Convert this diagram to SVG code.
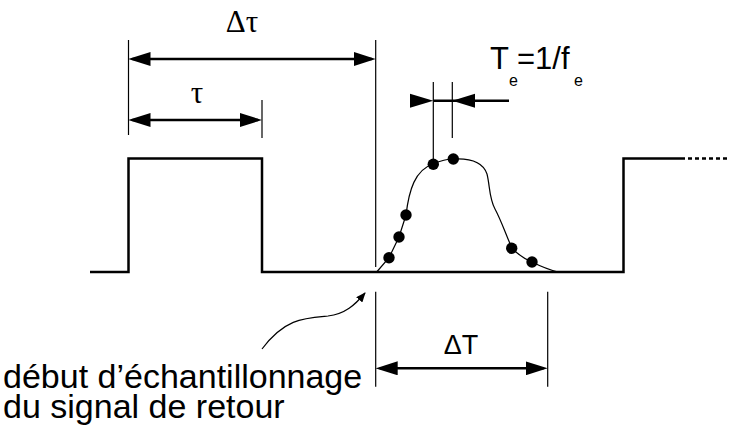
<svg xmlns="http://www.w3.org/2000/svg" width="729" height="426" viewBox="0 0 729 426">
<style>
.thick{fill:none;stroke:#000;stroke-width:2.5}
.thin{fill:none;stroke:#000;stroke-width:1.2}
.dim{fill:none;stroke:#000;stroke-width:2.5}
.sans{font-family:"Liberation Sans",Arial,sans-serif;fill:#000}
.serif{font-family:"Liberation Serif","Times New Roman",serif;fill:#000}
.dot{fill:#000}
</style>
<defs>
<marker id="ah" markerUnits="userSpaceOnUse" markerWidth="22" markerHeight="14" viewBox="0 0 22 14" refX="18" refY="7" orient="auto-start-reverse">
<path d="M0,0 L22,7 L0,14 z" fill="#000"/>
</marker>
<marker id="sh" markerUnits="userSpaceOnUse" markerWidth="10" markerHeight="8" viewBox="0 0 10 8" refX="9" refY="4" orient="auto">
<path d="M0,0 L10,4 L0,8 z" fill="#000"/>
</marker>
</defs>
<rect width="729" height="426" fill="#fff"/>

<g id="signal">
<path class="thick" d="M90,272 H128.5 V158.5 H262 V272 H623.5 V158.5 H681"/>
<path class="thick" d="M681,158.5 H729" stroke-dasharray="4,3"/>
</g>

<g id="echo">
<path class="thin" stroke-width="1.5" d="M376.7,272 L389,257.7 L399,237 L406,215 C409,190 415,170 433,164 C440,161 447,159 453,159 C470,158 483,162 487,174 C490,186 489,198 495,209 C502,222 507,238 512,248 C518,255 525,259 532,262 C540,266 550,270 558,272"/>
<circle class="dot" cx="389" cy="257.7" r="5.7"/>
<circle class="dot" cx="399" cy="237" r="5.7"/>
<circle class="dot" cx="406" cy="215" r="5.7"/>
<circle class="dot" cx="433.3" cy="164.3" r="5.7"/>
<circle class="dot" cx="453.3" cy="159" r="5.7"/>
<circle class="dot" cx="511.7" cy="248.3" r="5.7"/>
<circle class="dot" cx="532" cy="262" r="5.7"/>
</g>

<g id="connectors">
<line class="thin" x1="128.5" y1="40" x2="128.5" y2="135"/>
<line class="thin" x1="262" y1="100" x2="262" y2="138"/>
<line class="thin" x1="375.7" y1="40" x2="375.7" y2="267"/>
<line class="dim" x1="132.5" y1="59" x2="371.7" y2="59" marker-start="url(#ah)" marker-end="url(#ah)"/>
<line class="dim" x1="132.5" y1="120" x2="258" y2="120" marker-start="url(#ah)" marker-end="url(#ah)"/>
<line class="thin" x1="433.3" y1="82" x2="433.3" y2="160"/>
<line class="thin" x1="452.3" y1="82" x2="452.3" y2="138"/>
<line class="dim" x1="433.3" y1="100.7" x2="509" y2="100.7"/>
<polygon points="410,93.7 433.3,100.7 410,107.7" fill="#000"/>
<polygon points="475,93.7 452.3,100.7 475,107.7" fill="#000"/>
<line class="thin" x1="375.7" y1="291.7" x2="375.7" y2="386.7"/>
<line class="thin" x1="547.7" y1="291.7" x2="547.7" y2="386.7"/>
<line class="dim" x1="379.7" y1="368.3" x2="543.7" y2="368.3" marker-start="url(#ah)" marker-end="url(#ah)"/>
<path class="thin" d="M262,349 C285,318 305,318 328,316 C345,314 355,305 365,293" marker-end="url(#sh)"/>
</g>

<g id="labels">
<text class="serif" x="242" y="32" font-size="31" text-anchor="middle">Δτ</text>
<text class="serif" x="197" y="103" font-size="31" text-anchor="middle">τ</text>
<text class="sans" font-size="31"><tspan x="490" y="69">T</tspan><tspan x="509" y="86" font-size="16">e</tspan><tspan x="517" y="69">=1/f</tspan><tspan x="574" y="86" font-size="16">e</tspan></text>
<text class="sans" x="461" y="354" font-size="27" text-anchor="middle">ΔT</text>
<text class="sans" font-size="34"><tspan x="3" y="388">début d’échantillonnage</tspan><tspan x="3" y="418">du signal de retour</tspan></text>
</g>
</svg>
